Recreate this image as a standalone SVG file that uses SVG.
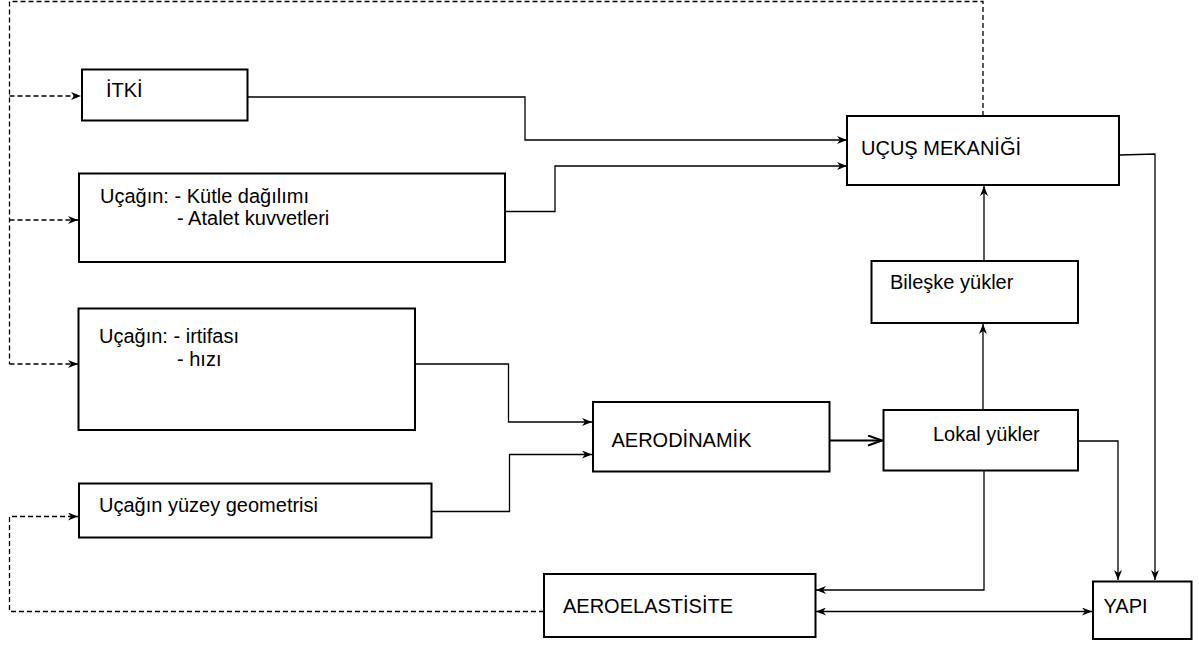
<svg xmlns="http://www.w3.org/2000/svg" width="1199" height="646" viewBox="0 0 1199 646">
<style>
.box{fill:#fff;stroke:#000;stroke-width:2}
.t{font-family:"Liberation Sans",Arial,sans-serif;font-size:20px;fill:#000}
.c{fill:none;stroke:#000;stroke-width:1.3}
.d{fill:none;stroke:#000;stroke-width:1.3;stroke-dasharray:5 3}
</style>
<defs>
<marker id="arr" viewBox="0 0 10 8" refX="10" refY="4" markerWidth="10" markerHeight="8" markerUnits="userSpaceOnUse" orient="auto-start-reverse">
<path d="M0,0 L10,4 L0,8 L3,4 Z" fill="#000"/>
</marker>
<marker id="open" viewBox="0 0 16 12" refX="15" refY="6" markerWidth="16" markerHeight="12" markerUnits="userSpaceOnUse" orient="auto">
<path d="M1,1 L15,6 L1,11" fill="none" stroke="#000" stroke-width="2"/>
</marker>
</defs>
<rect width="1199" height="646" fill="#fff"/>
<g id="connectors">
<path class="c" d="M248,97 H525 V140 H847" marker-end="url(#arr)"/>
<path class="c" d="M505,211.5 H555 V166 H847" marker-end="url(#arr)"/>
<path class="c" d="M416,364 H508.5 V422 H592" marker-end="url(#arr)"/>
<path class="c" d="M432,511.5 H509.5 V454.5 H592" marker-end="url(#arr)"/>
<path fill="none" stroke="#000" stroke-width="2.2" d="M830,440.5 H882" marker-end="url(#open)"/>
<path class="c" d="M983,410 V324" marker-end="url(#arr)"/>
<path class="c" d="M984,261 V186" marker-end="url(#arr)"/>
<path class="c" d="M1120,155 L1155,154 V580" marker-end="url(#arr)"/>
<path class="c" d="M1078,441 H1118 V580" marker-end="url(#arr)"/>
<path class="c" d="M984,471 V590 H816" marker-end="url(#arr)"/>
<path class="c" d="M816,611.5 H1092" marker-start="url(#arr)" marker-end="url(#arr)"/>
<path class="d" d="M983,116 V1.5 H9.5 V364"/>
<path class="d" d="M9.5,96 H81" marker-end="url(#arr)"/>
<path class="d" d="M9.5,220 H78" marker-end="url(#arr)"/>
<path class="d" d="M9.5,364 H78" marker-end="url(#arr)"/>
<path class="d" d="M544,611.5 H9.5 V516.5 H78" marker-end="url(#arr)"/>
</g>
<g id="itki"><rect class="box" x="82" y="69.5" width="165.5" height="51"/><text class="t" x="106" y="97">İTKİ</text></g>
<g id="kutle"><rect class="box" x="79" y="173.5" width="426" height="88.5"/><text class="t" x="100" y="203">Uçağın: - Kütle dağılımı</text><text class="t" x="177" y="225">- Atalet kuvvetleri</text></g>
<g id="irtifa"><rect class="box" x="78.5" y="308.5" width="336.5" height="121.5"/><text class="t" x="99" y="343">Uçağın: - irtifası</text><text class="t" x="177" y="366">- hızı</text></g>
<g id="yuzey"><rect class="box" x="79" y="483.5" width="352.5" height="54"/><text class="t" x="99" y="512">Uçağın yüzey geometrisi</text></g>
<g id="ucus"><rect class="box" x="847" y="116" width="272" height="69"/><text class="t" x="861" y="155">UÇUŞ MEKANİĞİ</text></g>
<g id="bileske"><rect class="box" x="871.5" y="261" width="206.5" height="62"/><text class="t" x="890" y="289">Bileşke yükler</text></g>
<g id="aero"><rect class="box" x="593" y="402" width="236.5" height="69.5"/><text class="t" x="611.5" y="447">AERODİNAMİK</text></g>
<g id="lokal"><rect class="box" x="883.5" y="410" width="194.5" height="60.5"/><text class="t" x="933" y="441">Lokal yükler</text></g>
<g id="aeroelast"><rect class="box" x="544" y="574" width="271.5" height="63"/><text class="t" x="563" y="613">AEROELASTİSİTE</text></g>
<g id="yapi"><rect class="box" x="1093" y="581.5" width="98.5" height="57.5"/><text class="t" x="1103.5" y="613">YAPI</text></g>
</svg>
